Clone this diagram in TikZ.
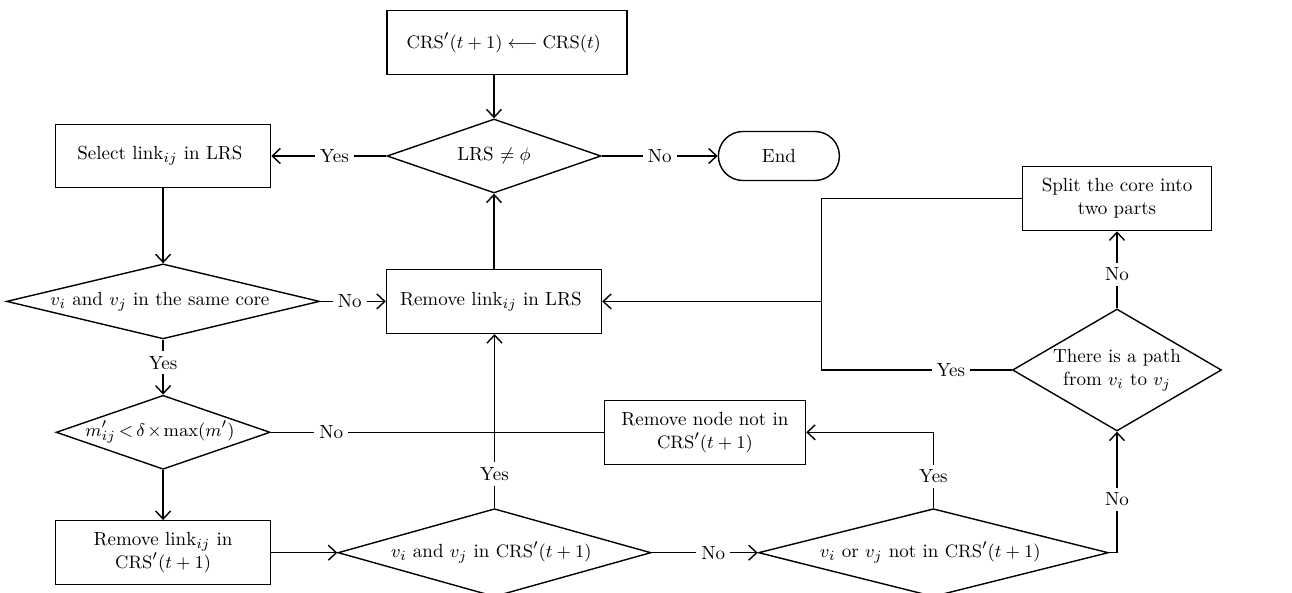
\documentclass[tikz,border=0pt]{standalone}
\usepackage{amsmath}
\usetikzlibrary{arrows.meta, positioning, shapes.geometric}
\tikzset{
  box/.style={
    draw=black,
    line width=0.7pt,
    fill=white,
    align=center,
    inner sep=3pt,
    font=\fontsize{9.5}{11.5}\selectfont
  },
  process/.style={
    box,
    minimum width=107.5pt,
    minimum height=32pt
  },
  decision/.style={
    box,
    diamond,
    inner sep=0pt
  },
  terminal/.style={
    box,
    rounded corners=12.25pt,
    minimum width=60.5pt,
    minimum height=24.5pt
  },
  arrow/.style={
    -{Straight Barb[length=4pt, width=7.5pt]},
    line width=0.7pt,
    draw=black
  },
  wire/.style={
    line width=0.7pt,
    draw=black
  },
  lbl/.style={
    fill=white,
    inner sep=2.5pt,
    font=\fontsize{9.5}{11.5}\selectfont
  }
}

\begin{document}
\begin{tikzpicture}

\useasboundingbox[fill=white] (0,0) rectangle (646pt,-296.5pt);

\node[decision, aspect=2.9, minimum width=107pt, minimum height=37pt] (lrs) at (247pt,-78pt) {LRS $\neq \phi$};

\node[process, minimum width=120pt, above=21.5pt of lrs, xshift=6.5pt] (start) {
  $\mathrm{CRS}'(t+1) \longleftarrow \mathrm{CRS}(t)$
};

\node[terminal, right=58pt of lrs] (finish) {End};

\node[process, minimum height=31.5pt, left=57.5pt of lrs] (select) {
  Select link$_{ij}$ in LRS
};

\node[decision, aspect=4.17, minimum width=156.5pt, minimum height=37.5pt, below=37.5pt of select] (samecore) {
  $v_i$ and $v_j$ in the same core
};

\node[process, below=37.5pt of lrs] (removelrs) {
  Remove link$_{ij}$ in LRS
};

\node[decision, aspect=2.89, inner xsep=-2.5pt, minimum width=107pt, minimum height=37pt, below=27.5pt of samecore] (mcheck) {
  \thickmuskip=3mu \medmuskip=2mu
  $m'_{ij} < \delta \times \max(m')$
};

\node[process, below=25pt of mcheck] (removecrs) {
  Remove link$_{ij}$ in\\
  $\mathrm{CRS}'(t+1)$
};

\node[decision, aspect=3.56, minimum width=156.5pt, minimum height=44pt, right=33pt of removecrs] (incrs) {
  $v_i$ and $v_j$ in $\mathrm{CRS}'(t+1)$
};

\node[decision, aspect=3.98, minimum width=175pt, minimum height=44pt, right=53pt of incrs] (notin) {
  $v_i$ or $v_j$ not in $\mathrm{CRS}'(t+1)$
};

\node[process, minimum width=100.5pt, right=166.5pt of mcheck] (removenode) {
  Remove node not in\\
  $\mathrm{CRS}'(t+1)$
};

\node[decision, aspect=1.71, minimum width=104.5pt, minimum height=61pt] (path) at (558.5pt,-185pt) {
  There is a path\\
  from $v_i$ to $v_j$
};

\node[process, minimum width=94.5pt, above=38.5pt of path] (split) {
  Split the core into\\
  two parts
};

\coordinate (jn) at (incrs.north |- mcheck.east);
\coordinate (mrg) at ([xshift=109.5pt]removelrs.east);

\draw[arrow] (start.south -| lrs.north) -- (lrs.north);
\draw[arrow] (lrs) -- node[lbl] {No} (finish);
\draw[arrow] (lrs) -- node[lbl, pos=0.45] {Yes} (select);
\draw[arrow] (select) -- (samecore);
\draw[arrow] (samecore) -- node[lbl, pos=0.45] {No} (removelrs);
\draw[arrow] (removelrs) -- (lrs);
\draw[arrow] (samecore) -- node[lbl, pos=0.42] {Yes} (mcheck);
\draw[arrow] (mcheck) -- (removecrs);
\draw[arrow] (removecrs) -- (incrs);
\draw[arrow] (incrs) -- node[lbl, pos=0.58] {No} (notin);
\draw[wire] (mcheck) -- node[lbl, pos=0.27] {No} (jn);
\draw[wire] (removenode) -- (jn);
\draw[wire] (incrs.north) -- node[lbl, pos=0.45] {Yes} (jn);
\draw[arrow] (jn) -- (jn |- removelrs.south);
\draw[arrow] (notin.north) |- node[lbl, pos=0.21] {Yes} (removenode.east);
\draw[arrow] (notin.east) -| node[lbl, pos=0.72] {No} (path.south);
\draw[arrow] (path) -- node[lbl, pos=0.44] {No} (split);
\draw[wire] (path.west) -- node[lbl, pos=0.32] {Yes} (path.west -| mrg) -- (mrg);
\draw[wire] (split.west) -| (mrg);
\draw[arrow] (mrg) -- (removelrs.east);

\end{tikzpicture}
\end{document}
